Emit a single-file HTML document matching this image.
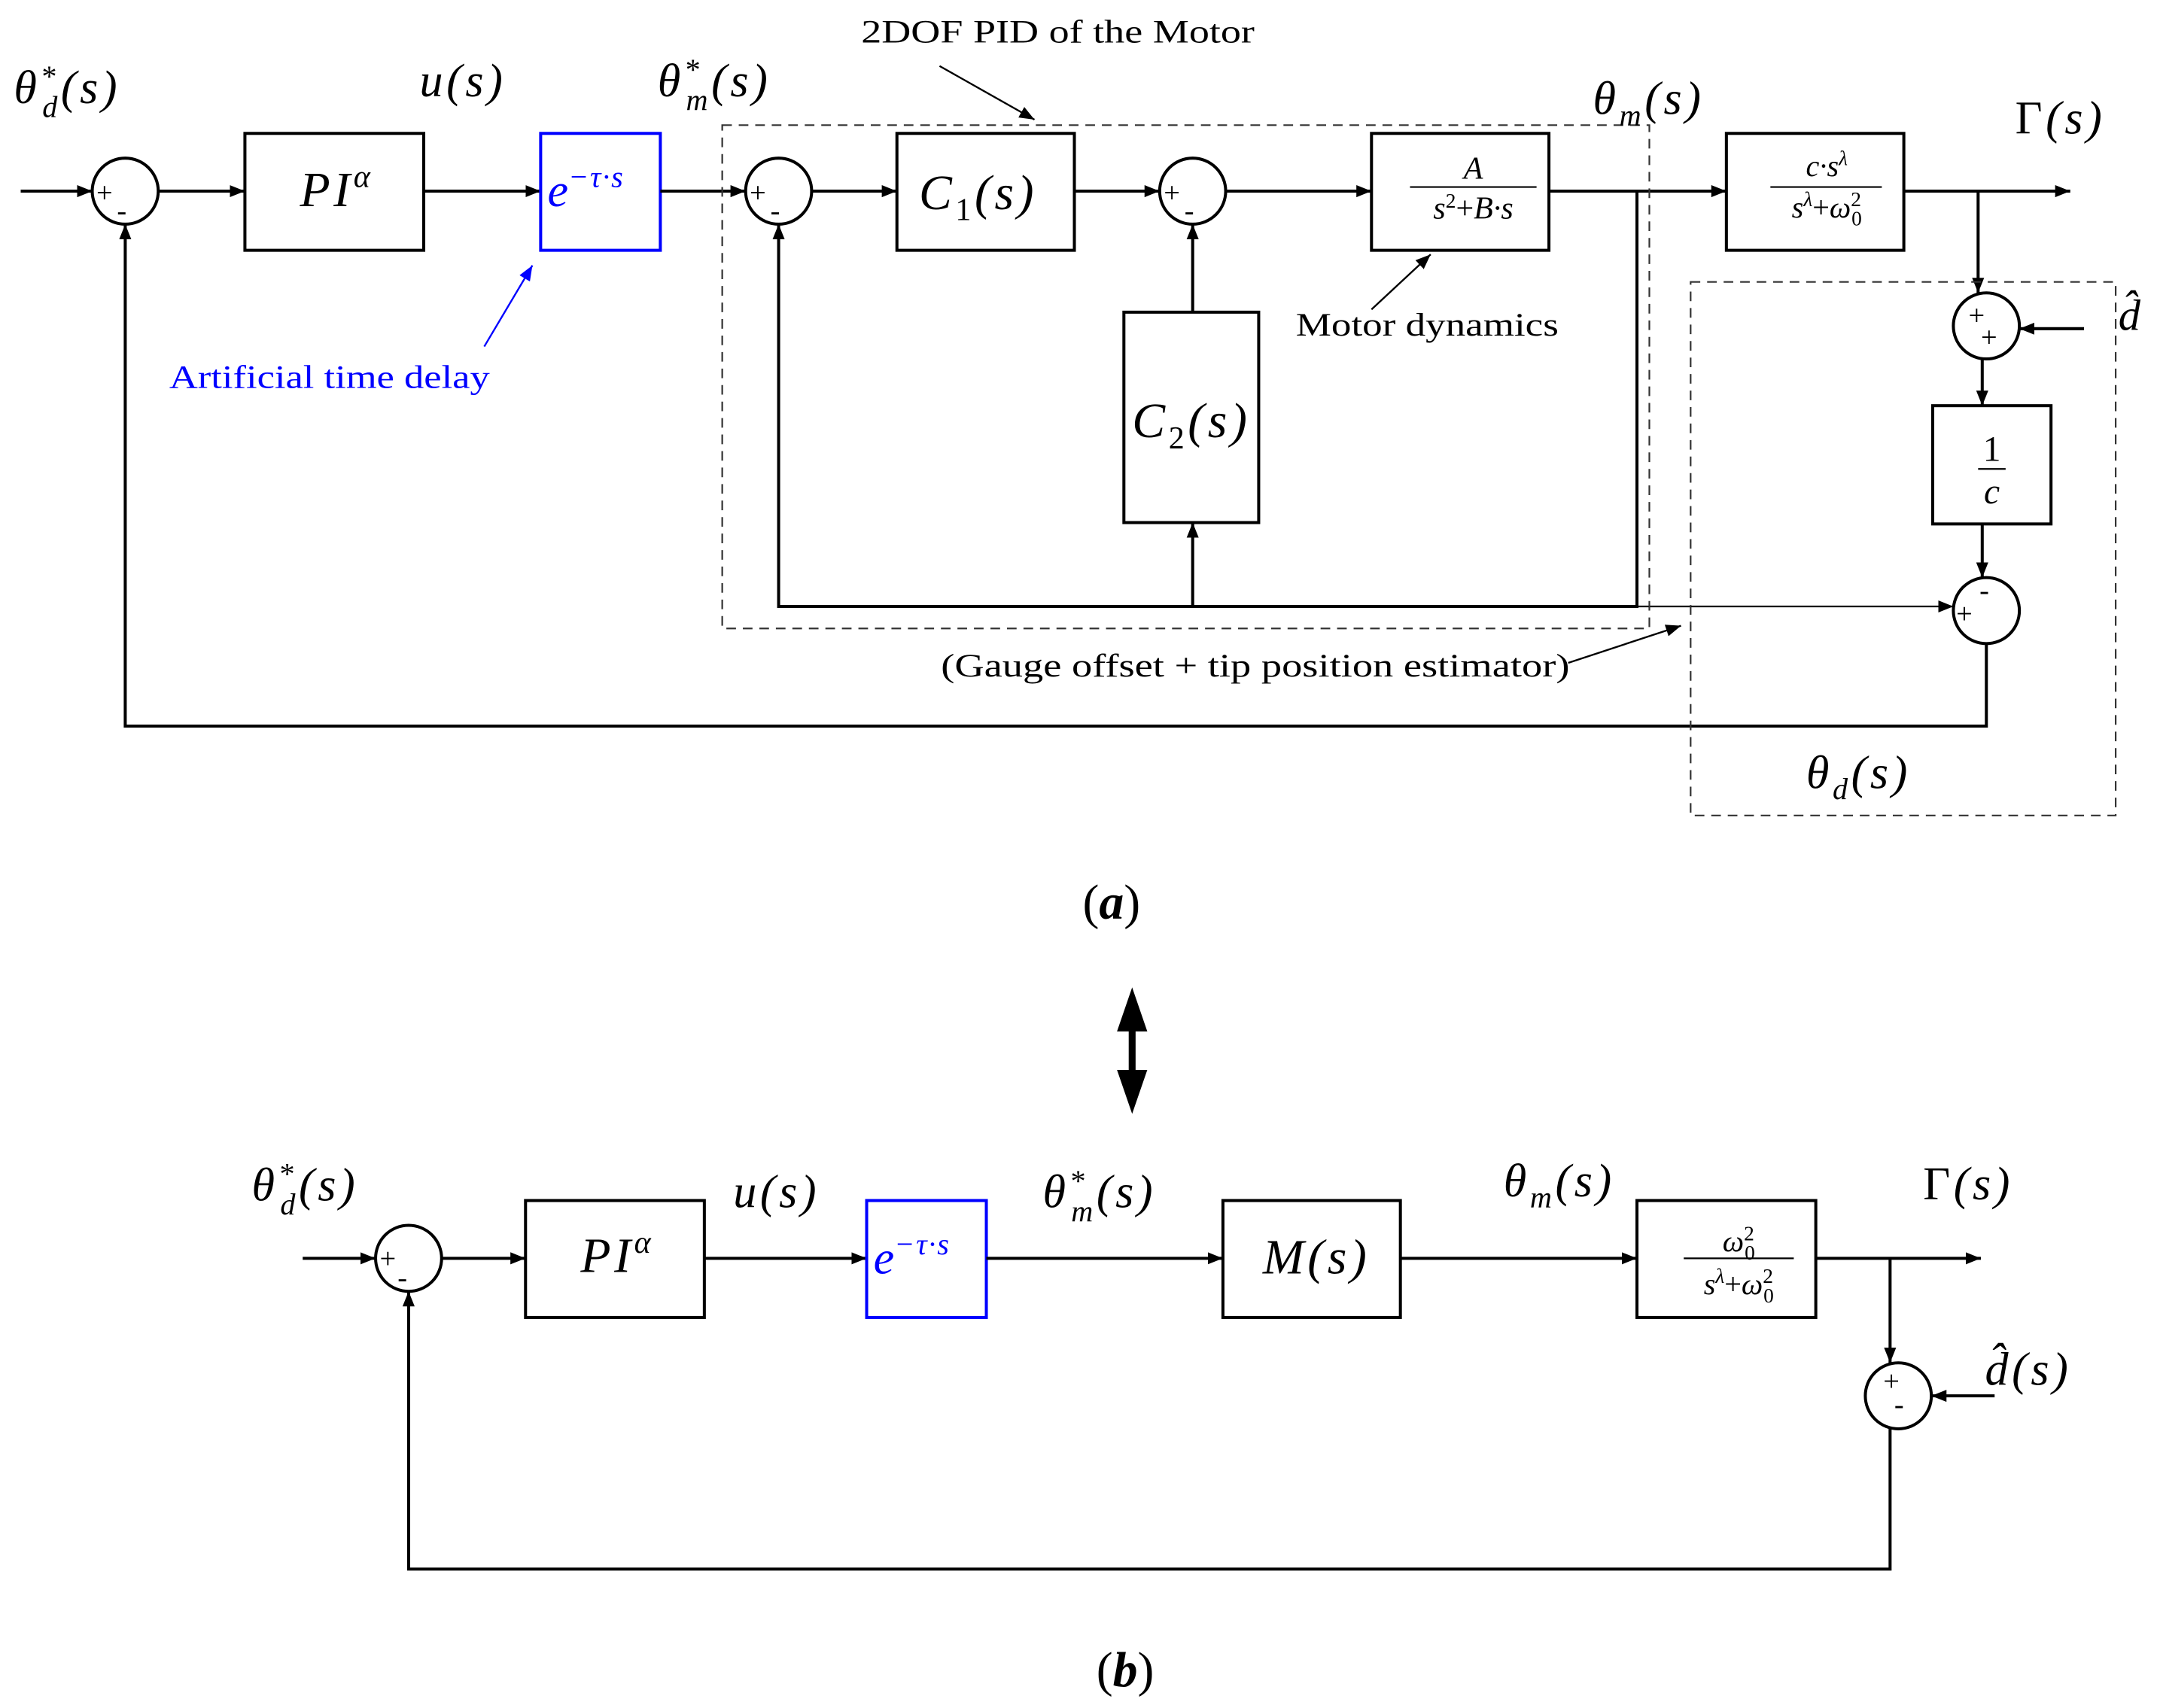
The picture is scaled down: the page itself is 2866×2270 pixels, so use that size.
<!DOCTYPE html>
<html><head><meta charset="utf-8"><style>
html,body{margin:0;padding:0;background:#fff;}
svg{display:block;}
text{font-family:"Liberation Serif",serif;}
.m{font-style:italic;}
.L{letter-spacing:2.5px;}
</style></head><body>
<svg width="2866" height="2270" viewBox="0 0 1568 1242" xmlns="http://www.w3.org/2000/svg">
<defs>
<marker id="a" viewBox="0 0 10 10" refX="10" refY="5" markerWidth="11" markerHeight="11" markerUnits="userSpaceOnUse" orient="auto"><path d="M0,1 L10,5 L0,9 z" fill="#000"/></marker>
<marker id="ab" viewBox="0 0 10 10" refX="10" refY="5" markerWidth="11" markerHeight="11" markerUnits="userSpaceOnUse" orient="auto"><path d="M0,1 L10,5 L0,9 z" fill="#00f"/></marker>
</defs>
<g stroke="#000" stroke-width="2.2" fill="none">
<line x1="15" y1="139" x2="67" y2="139" marker-end="url(#a)"/>
<circle cx="91" cy="139" r="24"/>
<line x1="115" y1="139" x2="178" y2="139" marker-end="url(#a)"/>
<rect x="178" y="97" width="130" height="85"/>
<line x1="308" y1="139" x2="393" y2="139" marker-end="url(#a)"/>
<rect x="393" y="97" width="87" height="85" stroke="#00f"/>
<line x1="480" y1="139" x2="542" y2="139" marker-end="url(#a)"/>
<circle cx="566" cy="139" r="24"/>
<line x1="590" y1="139" x2="652" y2="139" marker-end="url(#a)"/>
<rect x="652" y="97" width="129" height="85"/>
<line x1="781" y1="139" x2="843" y2="139" marker-end="url(#a)"/>
<circle cx="867" cy="139" r="24"/>
<line x1="891" y1="139" x2="997" y2="139" marker-end="url(#a)"/>
<rect x="997" y="97" width="129" height="85"/>
<line x1="1126" y1="139" x2="1255" y2="139" marker-end="url(#a)"/>
<rect x="1255" y="97" width="129" height="85"/>
<line x1="1384" y1="139" x2="1505" y2="139" marker-end="url(#a)"/>
<polyline points="1190,139 1190,441 566,441 566,163" marker-end="url(#a)"/>
<rect x="817" y="227" width="98" height="153"/>
<line x1="867" y1="441" x2="867" y2="380" marker-end="url(#a)"/>
<line x1="867" y1="227" x2="867" y2="163" marker-end="url(#a)"/>
<line x1="1190" y1="441" x2="1420" y2="441" stroke-width="1.2" marker-end="url(#a)"/>
<line x1="1438" y1="139" x2="1438" y2="213" marker-end="url(#a)"/>
<circle cx="1444" cy="237" r="24"/>
<line x1="1515" y1="239" x2="1468" y2="239" marker-end="url(#a)"/>
<line x1="1441" y1="261" x2="1441" y2="295" marker-end="url(#a)"/>
<rect x="1405" y="295" width="86" height="86"/>
<line x1="1441" y1="381" x2="1441" y2="420" marker-end="url(#a)"/>
<circle cx="1444" cy="444" r="24"/>
<polyline points="1444,468 1444,528 91,528 91,163" marker-end="url(#a)"/>
</g>
<g stroke="#333" stroke-width="1.2" fill="none" stroke-dasharray="7,5">
<rect x="525" y="91" width="674" height="366"/>
<rect x="1229" y="205" width="309" height="388"/>
</g>
<g stroke="#000" stroke-width="1.3" fill="none">
<line x1="683" y1="48" x2="752" y2="87" marker-end="url(#a)"/>
<line x1="997" y1="225" x2="1040" y2="185" marker-end="url(#a)"/>
<line x1="1140" y1="482" x2="1222" y2="455" marker-end="url(#a)"/>
</g>
<line x1="352" y1="252" x2="387" y2="193" stroke="#00f" stroke-width="1.3" marker-end="url(#ab)"/>
<g font-size="21" fill="#000">
<text x="70" y="147">+</text><text x="85" y="160">-</text>
<text x="545" y="147">+</text><text x="560" y="160">-</text>
<text x="846" y="147">+</text><text x="861" y="160">-</text>
<text x="1431" y="236">+</text><text x="1440" y="252">+</text>
<text x="1439" y="436">-</text><text x="1422" y="453">+</text>
<text x="276" y="922">+</text><text x="289" y="936">-</text>
<text x="1369" y="1011">+</text><text x="1377" y="1028">-</text>
</g>
<g fill="#000">
<text x="10" y="75" font-size="34" class="m L">θ<tspan font-size="22" dy="-12">*</tspan><tspan font-size="22" dx="-12" dy="22">d</tspan><tspan dy="-10">(s)</tspan></text>
<text x="305" y="70" font-size="34" class="m L">u(s)</text>
<text x="478" y="70" font-size="34" class="m L">θ<tspan font-size="22" dy="-12">*</tspan><tspan font-size="22" dx="-12" dy="22">m</tspan><tspan dy="-10">(s)</tspan></text>
<text x="626" y="31" font-size="24" textLength="286" lengthAdjust="spacingAndGlyphs">2DOF PID of the Motor</text>
<text x="1158" y="83" font-size="34" class="m L">θ<tspan font-size="22" dy="8">m</tspan><tspan dy="-8">(s)</tspan></text>
<text x="1465" y="97" font-size="34" class="L">Γ<tspan class="m">(s)</tspan></text>
<text x="1540" y="240" font-size="32" class="m">d̂</text>
<text x="218" y="150" font-size="36" class="m L">PI<tspan font-size="23" dy="-14">α</tspan></text>
<text x="398" y="150" font-size="34" class="m" fill="#00f">e<tspan font-size="22" dy="-14" letter-spacing="1">−τ·s</tspan></text>
<text x="668" y="152" font-size="36" class="m L">C<tspan font-size="23" dy="8" font-style="normal">1</tspan><tspan dy="-8">(s)</tspan></text>
<text x="1071" y="130" font-size="23" class="m" text-anchor="middle">A</text>
<line x1="1025" y1="136" x2="1117" y2="136" stroke="#000" stroke-width="1.2"/>
<text x="1071" y="159" font-size="23" class="m" text-anchor="middle">s<tspan font-size="15" dy="-8" font-style="normal">2</tspan><tspan dy="8" font-style="normal">+</tspan>B·s</text>
<text x="1328" y="128" font-size="22" class="m" text-anchor="middle">c·s<tspan font-size="15" dy="-8">λ</tspan></text>
<line x1="1287" y1="136" x2="1368" y2="136" stroke="#000" stroke-width="1.2"/>
<text x="1328" y="158" font-size="22" class="m" text-anchor="middle">s<tspan font-size="15" dy="-8">λ</tspan><tspan dy="8" font-style="normal">+</tspan>ω<tspan font-size="15" dy="-8" font-style="normal">2</tspan><tspan font-size="15" dx="-7" dy="14" font-style="normal">0</tspan></text>
<text x="823" y="318" font-size="36" class="m L">C<tspan font-size="23" dy="8" font-style="normal">2</tspan><tspan dy="-8">(s)</tspan></text>
<text x="1448" y="335" font-size="26" text-anchor="middle">1</text>
<line x1="1438" y1="341" x2="1458" y2="341" stroke="#000" stroke-width="1.2"/>
<text x="1448" y="366" font-size="26" class="m" text-anchor="middle">c</text>
<text x="123" y="282" font-size="24" fill="#00f" textLength="233" lengthAdjust="spacingAndGlyphs">Artificial time delay</text>
<text x="942" y="244" font-size="24" textLength="191" lengthAdjust="spacingAndGlyphs">Motor dynamics</text>
<text x="684" y="492" font-size="24" textLength="457" lengthAdjust="spacingAndGlyphs">(Gauge offset + tip position estimator)</text>
<text x="1313" y="573" font-size="34" class="m L">θ<tspan font-size="22" dy="8">d</tspan><tspan dy="-8">(s)</tspan></text>
<text x="787" y="668" font-size="36">(<tspan font-weight="bold" class="m">a</tspan>)</text>
</g>
<line x1="823" y1="740" x2="823" y2="790" stroke="#000" stroke-width="5"/>
<path d="M823,718 L812,750 L834,750 z M823,810 L812,778 L834,778 z" fill="#000"/>
<g stroke="#000" stroke-width="2.2" fill="none">
<line x1="220" y1="915" x2="273" y2="915" marker-end="url(#a)"/>
<circle cx="297" cy="915" r="24"/>
<line x1="321" y1="915" x2="382" y2="915" marker-end="url(#a)"/>
<rect x="382" y="873" width="130" height="85"/>
<line x1="512" y1="915" x2="630" y2="915" marker-end="url(#a)"/>
<rect x="630" y="873" width="87" height="85" stroke="#00f"/>
<line x1="717" y1="915" x2="889" y2="915" marker-end="url(#a)"/>
<rect x="889" y="873" width="129" height="85"/>
<line x1="1018" y1="915" x2="1190" y2="915" marker-end="url(#a)"/>
<rect x="1190" y="873" width="130" height="85"/>
<line x1="1320" y1="915" x2="1440" y2="915" marker-end="url(#a)"/>
<line x1="1374" y1="915" x2="1374" y2="991" marker-end="url(#a)"/>
<circle cx="1380" cy="1015" r="24"/>
<line x1="1450" y1="1015" x2="1404" y2="1015" marker-end="url(#a)"/>
<polyline points="1374,1039 1374,1141 297,1141 297,939" marker-end="url(#a)"/>
</g>
<g fill="#000">
<text x="183" y="873" font-size="34" class="m L">θ<tspan font-size="22" dy="-12">*</tspan><tspan font-size="22" dx="-12" dy="22">d</tspan><tspan dy="-10">(s)</tspan></text>
<text x="533" y="878" font-size="34" class="m L">u(s)</text>
<text x="758" y="878" font-size="34" class="m L">θ<tspan font-size="22" dy="-12">*</tspan><tspan font-size="22" dx="-12" dy="22">m</tspan><tspan dy="-10">(s)</tspan></text>
<text x="1093" y="870" font-size="34" class="m L">θ<tspan font-size="22" dy="8">m</tspan><tspan dy="-8">(s)</tspan></text>
<text x="1398" y="872" font-size="34" class="L">Γ<tspan class="m">(s)</tspan></text>
<text x="1443" y="1007" font-size="34" class="m L">d̂(s)</text>
<text x="422" y="925" font-size="36" class="m L">PI<tspan font-size="23" dy="-14">α</tspan></text>
<text x="635" y="926" font-size="34" class="m" fill="#00f">e<tspan font-size="22" dy="-14" letter-spacing="1">−τ·s</tspan></text>
<text x="918" y="926" font-size="36" class="m L">M(s)</text>
<text x="1264" y="910" font-size="22" class="m" text-anchor="middle">ω<tspan font-size="15" dy="-8" font-style="normal">2</tspan><tspan font-size="15" dx="-7" dy="14" font-style="normal">0</tspan></text>
<line x1="1224" y1="915" x2="1304" y2="915" stroke="#000" stroke-width="1.2"/>
<text x="1264" y="941" font-size="22" class="m" text-anchor="middle">s<tspan font-size="15" dy="-8">λ</tspan><tspan dy="8" font-style="normal">+</tspan>ω<tspan font-size="15" dy="-8" font-style="normal">2</tspan><tspan font-size="15" dx="-7" dy="14" font-style="normal">0</tspan></text>
<text x="797" y="1226" font-size="36">(<tspan font-weight="bold" class="m">b</tspan>)</text>
</g>
</svg>
</body></html>
